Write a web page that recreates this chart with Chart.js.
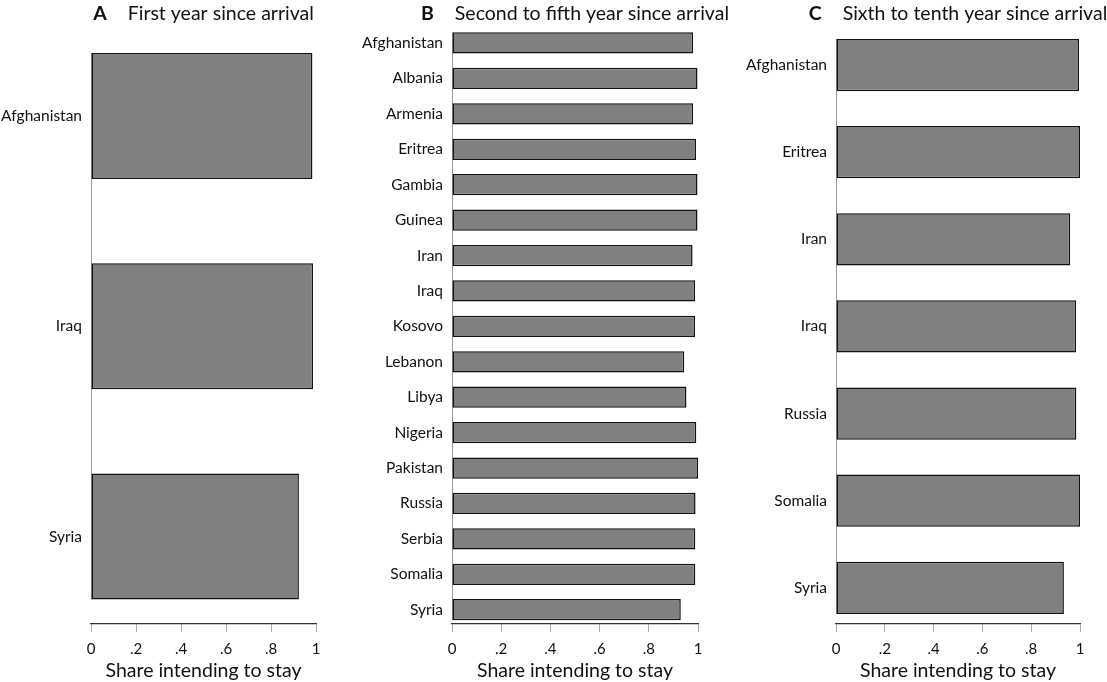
<!DOCTYPE html>
<html>
<head>
<meta charset="utf-8">
<script src="https://cdn.jsdelivr.net/npm/chart.js@4.4.1/dist/chart.umd.min.js"></script>
<style>
  body { margin: 0; background: #fff; width: 1107px; height: 682px; position: relative; overflow: hidden; }
  canvas { position: absolute; top: 0; }
</style>
</head>
<body>
<canvas id="chartA" width="350" height="682" style="left:0px"></canvas>
<canvas id="chartB" width="380" height="682" style="left:360px"></canvas>
<canvas id="chartC" width="367" height="682" style="left:740px"></canvas>
<script>
// panel A: first year
const countriesA = ['Afghanistan', 'Iraq', 'Syria'];
const shareA = [0.984, 0.987, 0.924];

// panel B: second to fifth year
const countriesB = ['Afghanistan', 'Albania', 'Armenia', 'Eritrea', 'Gambia', 'Guinea', 'Iran', 'Iraq',
  'Kosovo', 'Lebanon', 'Libya', 'Nigeria', 'Pakistan', 'Russia', 'Serbia', 'Somalia', 'Syria'];
const shareB = [0.98, 0.998, 0.98, 0.992, 0.998, 0.998, 0.978, 0.988, 0.988, 0.944, 0.953,
  0.993, 1.0, 0.99, 0.989, 0.989, 0.93];

// panel C: sixth to tenth year
const countriesC = ['Afghanistan', 'Eritrea', 'Iran', 'Iraq', 'Russia', 'Somalia', 'Syria'];
const shareC = [0.996, 1.0, 0.96, 0.984, 0.985, 1.0, 0.934];

const xTickValues = [0, 0.2, 0.4, 0.6, 0.8, 1];
const xTickLabels = ['0', '.2', '.4', '.6', '.8', '1'];
const axisTitle = 'Share intending to stay';

const FONT = 'Lato';

// panel heading: bold letter + plain text, centred over the plot area
const panelTitle = {
  id: 'panelTitle',
  afterDraw(chart, args, o) {
    const ctx = chart.ctx;
    const area = chart.chartArea;
    ctx.save();
    ctx.font = 'bold 19.5px ' + FONT;
    const w1 = ctx.measureText(o.letter).width;
    ctx.font = '19.5px ' + FONT;
    const w2 = ctx.measureText(o.text).width;
    const gap = 21;
    const x = (area.left + area.right) / 2 - (w1 + gap + w2) / 2;
    ctx.fillStyle = '#111';
    ctx.textBaseline = 'alphabetic';
    ctx.font = 'bold 19.5px ' + FONT;
    ctx.fillText(o.letter, x, 20);
    ctx.font = '19.5px ' + FONT;
    ctx.fillText(o.text, x + w1 + gap, 20);
    ctx.restore();
  }
};

// category axis line, only as long as the bars reach
const catAxisLine = {
  id: 'catAxisLine',
  beforeDatasetsDraw(chart) {
    const y = chart.scales.y;
    const n = chart.data.datasets[0].data.length;
    const ctx = chart.ctx;
    const x0 = chart.chartArea.left + 0.5;
    ctx.save();
    ctx.strokeStyle = '#999';
    ctx.lineWidth = 1;
    ctx.beginPath();
    ctx.moveTo(x0, y.getPixelForValue(-0.3));
    ctx.lineTo(x0, y.getPixelForValue(n - 1 + 0.3));
    ctx.stroke();
    ctx.restore();
  }
};

function makePanel(id, countries, shares, letter, text, yWidth, padRight, yMin, yMax) {
  new Chart(document.getElementById(id), {
    type: 'bar',
    data: {
      datasets: [{
        data: shares.map((v, i) => ({ x: v, y: i })),
        backgroundColor: '#808080',
        borderColor: '#111',
        borderWidth: 1.5,
        borderSkipped: false,
        barPercentage: 0.6,
        categoryPercentage: 1
      }]
    },
    options: {
      indexAxis: 'y',
      responsive: false,
      animation: false,
      layout: { padding: { top: 30, right: padRight, bottom: 0, left: 0 } },
      plugins: {
        legend: { display: false },
        tooltip: { enabled: false },
        panelTitle: { letter: letter, text: text }
      },
      scales: {
        y: {
          type: 'linear',
          reverse: true,
          offset: false,
          min: yMin,
          max: yMax,
          grid: { display: false, drawTicks: false },
          border: { display: false },
          afterBuildTicks: s => { s.ticks = countries.map((c, i) => ({ value: i })); },
          afterFit: s => { s.width = yWidth; },
          ticks: {
            autoSkip: false,
            padding: 9,
            color: '#111',
            font: { family: FONT, size: 15.5 },
            callback: v => countries[v]
          }
        },
        x: {
          type: 'linear',
          min: 0,
          max: 1,
          grid: { display: true, drawOnChartArea: false, drawTicks: true, tickLength: 8, color: '#aaa' },
          border: { display: true, color: '#333', width: 1.2 },
          afterBuildTicks: s => { s.ticks = xTickValues.map(v => ({ value: v })); },
          afterFit: s => { s.height = 58; },
          ticks: {
            padding: 8,
            maxRotation: 0,
            color: '#111',
            font: { family: FONT, size: 15 },
            callback: (v, i) => xTickLabels[i]
          },
          title: {
            display: true,
            text: axisTitle,
            color: '#111',
            font: { family: FONT, size: 19.5 },
            padding: { top: 0, bottom: 0 }
          }
        }
      }
    },
    plugins: [panelTitle, catAxisLine]
  });
}

makePanel('chartA', countriesA, shareA, 'A', 'First year since arrival', 91, 34, -0.409, 2.416);
makePanel('chartB', countriesB, shareB, 'B', 'Second to fifth year since arrival', 92, 42, -0.367, 16.404);
makePanel('chartC', countriesC, shareC, 'C', 'Sixth to tenth year since arrival', 96, 27, -0.402, 6.415);
</script>
</body>
</html>
